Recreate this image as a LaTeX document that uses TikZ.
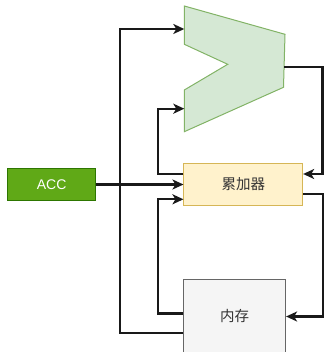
\documentclass[tikz,border=0pt]{standalone}
\usepackage{fontspec}
\setmainfont{Liberation Sans}
\newfontfamily\cjk{Noto Sans CJK SC}
\usetikzlibrary{arrows.meta}
\definecolor{accfill}{HTML}{60A917}
\definecolor{accline}{HTML}{2D7600}
\definecolor{yfill}{HTML}{FFF2CC}
\definecolor{yline}{HTML}{D6B656}
\definecolor{gfill}{HTML}{D5E8D4}
\definecolor{gline}{HTML}{82B366}
\definecolor{mfill}{HTML}{F5F5F5}
\definecolor{mline}{HTML}{666666}
\definecolor{txt}{HTML}{333333}
\begin{document}
\begin{tikzpicture}[x=1pt,y=-1pt,
  box/.style={draw, line width=1pt, inner sep=0pt},
  wire/.style={line width=2.1pt, draw=black!90, line join=miter,
    -{Stealth[length=11pt,width=10pt,inset=3pt]}}]
\useasboundingbox (0,0) rectangle (324,352);
\clip (0,0) rectangle (324,352);
% ALU shape
\draw[fill=gfill, draw=gline, line width=1pt]
  (184.3,6) -- (285,34.3) -- (283.5,87.3) -- (184.3,131.7) -- (184.3,90)
  -- (227.7,64.3) -- (184.3,44.3) -- cycle;
\coordinate (aluin1) at (184.3,29);
\coordinate (aluin2) at (184.3,108.7);
\coordinate (aluout) at (284.3,66.7);
% boxes
\node[box, fill=accfill, draw=accline, minimum width=88.7pt, minimum height=31pt,
  text=white, font=\fontsize{14}{16}\selectfont] (acc) at (51.6,184.5) {ACC};
\node[box, fill=yfill, draw=yline, minimum width=118.7pt, minimum height=41.3pt,
  text=txt, font=\cjk\fontsize{14.5}{16}\selectfont] (accum) at (243.3,184.5) {累加器};
\node[box, fill=mfill, draw=mline, minimum width=102pt, minimum height=75pt,
  text=txt, font=\cjk\fontsize{14.5}{16}\selectfont] (mem) at (234.6,316.5) {内存};
% connectors
\draw[wire] (acc.east) -- (acc.east -| accum.west);
\draw[wire] ([yshift=10.5pt]accum.west) -- ++(-25.7,0) |- (aluin2);
\draw[wire] (aluout) -| ([xshift=19.3pt,yshift=10.5pt]accum.east) -- ([yshift=10.5pt]accum.east);
\draw[wire] ([yshift=-9.8pt]accum.east) -- ++(20,0) |- (mem.east);
\draw[wire] ([yshift=3pt]mem.west) -- ++(-25.5,0) |- ([yshift=-14.8pt]accum.west);
\draw[wire] ([yshift=-16.5pt]mem.west) -- ++(-62.8,0) |- (aluin1);
\end{tikzpicture}
\end{document}
